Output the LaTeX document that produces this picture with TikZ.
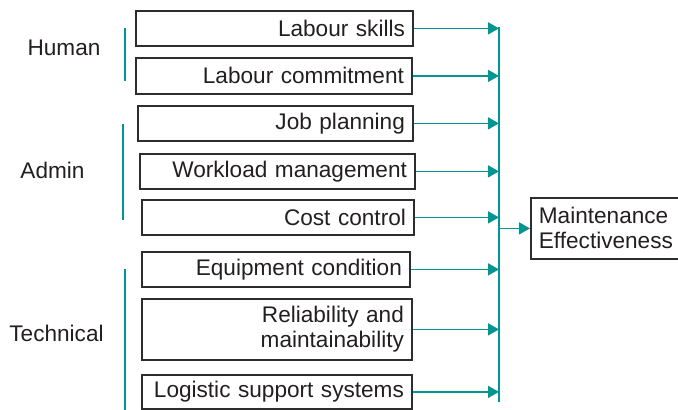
\documentclass[tikz,border=0pt]{standalone}
\usepackage{fontspec}
\setmainfont{Liberation Sans}
\usetikzlibrary{arrows.meta}
\definecolor{tealc}{RGB}{0,150,145}
\definecolor{boxc}{RGB}{45,45,45}
\definecolor{txtc}{RGB}{35,31,32}
\begin{document}
\begin{tikzpicture}[x=1pt,y=-1pt,
  every node/.style={text=txtc, font=\fontsize{22.6}{25}\selectfont},
  fbox/.style={draw=boxc, line width=1.8pt, anchor=north west, inner xsep=8pt, inner ysep=0pt, align=right},
  mbox/.style={draw=boxc, line width=1.8pt, anchor=north west, inner xsep=8pt, inner ysep=0pt, align=left},
  arr/.style={draw=tealc, line width=1.6pt, -{Triangle[length=11pt,width=12pt]}},
  tline/.style={draw=tealc, line width=1.6pt},
  grp/.style={draw=tealc, line width=1.6pt}]
\useasboundingbox (0,0) rectangle (678,410);
\node[fbox, minimum width=277pt, minimum height=35pt, text width=261pt] (b1) at (135,10) {Labour skills};
\node[fbox, minimum width=276pt, minimum height=36pt, text width=260pt] (b2) at (135,57) {Labour commitment};
\node[fbox, minimum width=275pt, minimum height=35pt, text width=259pt] (b3) at (137,105) {Job planning};
\node[fbox, minimum width=275pt, minimum height=35pt, text width=259pt] (b4) at (139,153) {Workload management};
\node[fbox, minimum width=272pt, minimum height=35pt, text width=256pt] (b5) at (141,199) {Cost control};
\node[fbox, minimum width=268pt, minimum height=35pt, text width=252pt] (b6) at (141,251) {Equipment condition};
\node[fbox, minimum width=270pt, minimum height=61pt, text width=254pt] (b7) at (141,298) {Reliability and\\maintainability};
\node[fbox, minimum width=270pt, minimum height=34pt, text width=254pt] (b8) at (141,374) {Logistic support systems};
\node[mbox, minimum width=148pt, minimum height=61pt, text width=132pt] (m) at (530,197) {Maintenance\\Effectiveness};
\coordinate (top) at (499,27);
\coordinate (bot) at (499,402);
\draw[tline] (top) -- (bot);
\foreach \b in {b1,b2,b3,b4,b5,b6,b7,b8}{
  \draw[arr] (\b.east) -- (\b.east -| top);
}
\draw[arr] (m.west -| top) -- (m.west);
\node (hum) at (64,48) {Human};
\node (adm) at (52.5,170) {Admin};
\node (tec) at (56.5,333) {Technical};
\coordinate (h1) at (125,28); \coordinate (h2) at (125,81);
\coordinate (a1) at (123,124); \coordinate (a2) at (123,220);
\coordinate (t1) at (125,269); \coordinate (t2) at (125,410);
\draw[grp] (h1) -- (h2);
\draw[grp] (a1) -- (a2);
\draw[grp] (t1) -- (t2);
\end{tikzpicture}
\end{document}
